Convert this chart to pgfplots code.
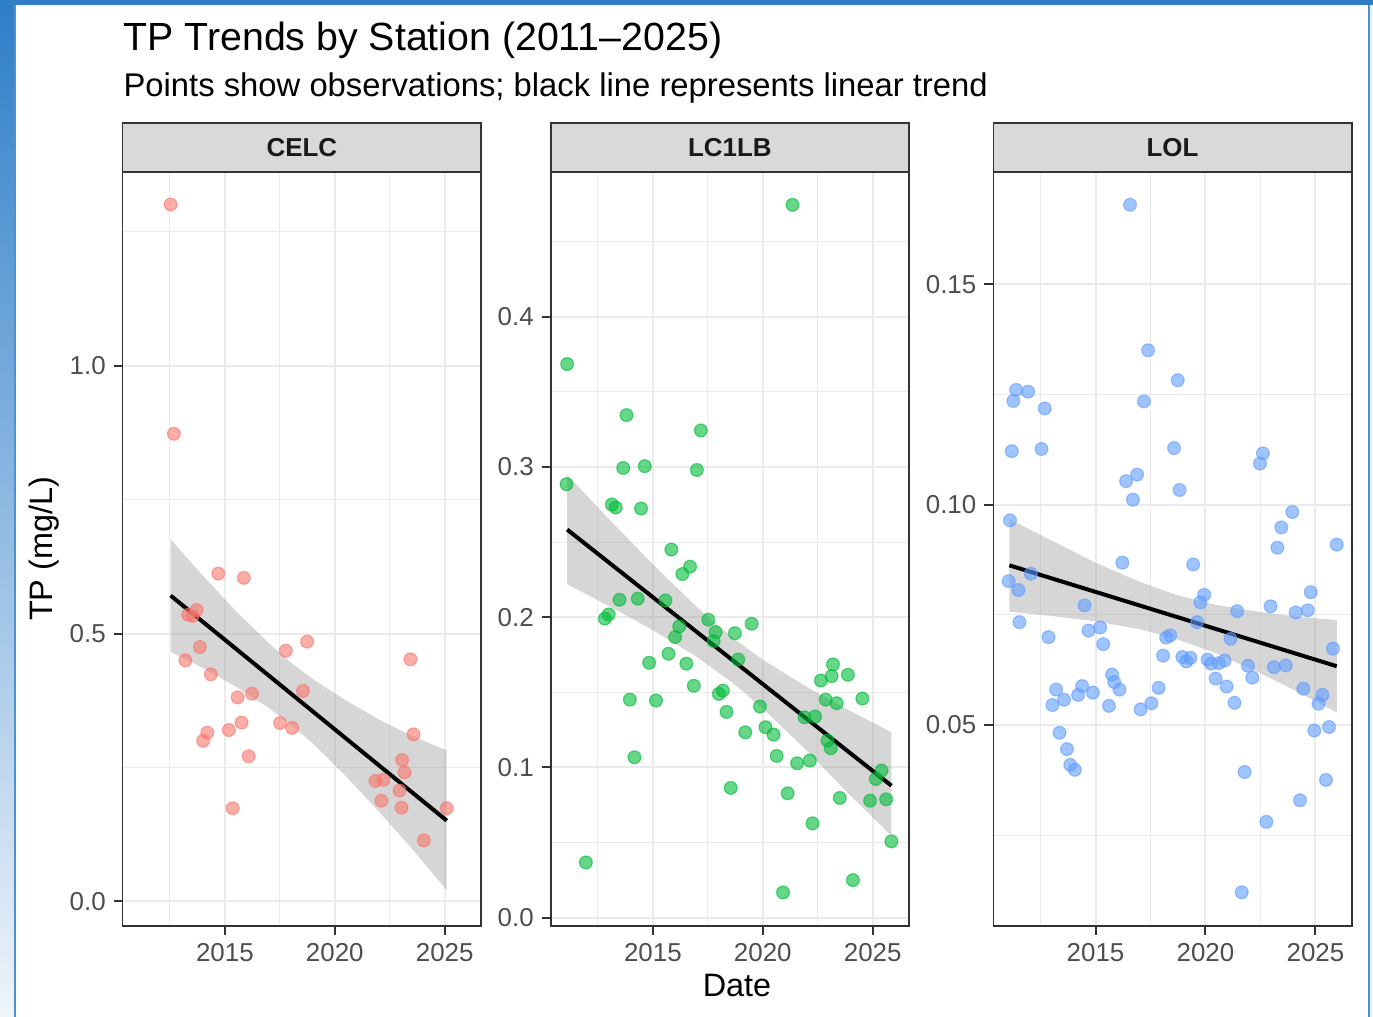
\documentclass[border=0pt]{standalone}
\usepackage{pgfplots}
\pgfplotsset{compat=1.18}
\usepackage{fontspec}
\setmainfont{Liberation Sans}
\definecolor{celc}{HTML}{F8766D}
\definecolor{lcgreen}{HTML}{00BA38}
\definecolor{lolblue}{HTML}{619CFF}
\definecolor{gridc}{HTML}{EBEBEB}
\definecolor{gtwenty}{HTML}{333333}
\definecolor{gthirty}{HTML}{4D4D4D}
\definecolor{stripc}{HTML}{D9D9D9}
\definecolor{bandc}{HTML}{999999}
\definecolor{frameblue}{HTML}{2E7EC8}

\pgfplotsset{
  facet/.style={
    anchor=south west, scale only axis, height=377pt,
    xmin=2010.35, xmax=2026.65,
    xtick={2015,2020,2025}, minor xtick={2012.5,2017.5,2022.5},
    grid=both,
    major grid style={color=gridc, line width=1pt},
    minor grid style={color=gridc, line width=0.5pt},
    axis line style={gtwenty, line width=0.8pt},
    tick align=outside, tick pos=left,
    major tick length=4.5pt, minor tick length=0pt,
    major tick style={gtwenty, line width=1pt},
    /pgf/number format/1000 sep={},
    /pgf/number format/assume math mode=true,
    tick label style={font=\fontsize{12.96}{14}\selectfont, text=gthirty},
    xticklabel style={inner sep=0pt, yshift=-4pt},
    yticklabel style={inner sep=0pt, xshift=-3.8pt},
    clip=false,
    axis on top=false,
  },
  pts/.style={only marks, mark=*, mark size=3.2pt, color=#1,
    mark options={line width=0.6pt, fill opacity=0.6, draw opacity=0.6}},
  band/.style={fill=bandc, fill opacity=0.4, draw=none, forget plot},
  trend/.style={black, line width=2pt, no marks},
}
\newcommand{\strip}[1]{%
  \draw[fill=stripc, draw=gtwenty, line width=0.8pt] (rel axis cs:0,1) rectangle ([yshift=24.5pt]rel axis cs:1,1);
  \node[font=\bfseries\fontsize{12.96}{14}\selectfont, text=black!90, anchor=center] at ([yshift=12.25pt]rel axis cs:0.5,1) {#1};
}

\begin{document}
\begin{tikzpicture}
\useasboundingbox (0,0) rectangle (686.5pt,508.5pt);
% screenshot frame
\shade[top color=frameblue, bottom color=frameblue!8] (0,0) rectangle (7.5pt,508.5pt);
\draw[color=frameblue!85, line width=0.8pt] (7.5pt,0) -- (7.5pt,506pt);
\fill[frameblue] (0,506pt) rectangle (686.5pt,508.5pt);
\draw[color=frameblue!85, line width=1pt] (684.7pt,0) -- (684.7pt,506pt);
\fill[frameblue!10] (685.2pt,0) rectangle (686.5pt,506pt);

\node[anchor=base west, inner sep=0pt, font=\fontsize{19.65}{22}\selectfont] at (61.6pt,483.3pt) {TP Trends by Station (2011–2025)};
\node[anchor=base west, inner sep=0pt, font=\fontsize{16.4}{19}\selectfont] at (61.6pt,460pt) {Points show observations; black line represents linear trend};
\node[anchor=base, rotate=90, inner sep=0pt, font=\fontsize{16.2}{19}\selectfont] at (26.5pt,234pt) {TP (mg/L)};
\node[anchor=base, inner sep=0pt, font=\fontsize{16.2}{19}\selectfont] at (368.5pt,10pt) {Date};

% ---------------- CELC
\begin{axis}[facet, at={(61.35pt,45.6pt)}, width=179.15pt,
  ymin=-0.0454, ymax=1.362, ytick={0,0.5,1}, minor ytick={0.25,0.75,1.25},
  yticklabel style={/pgf/number format/.cd, fixed, fixed zerofill, precision=1}]
\addplot[pts=celc] table {
x y
2012.53 1.301
2012.68 0.873
2013.71 0.544
2013.33 0.535
2013.53 0.533
2013.86 0.475
2013.20 0.450
2014.36 0.424
2014.70 0.612
2015.86 0.604
2016.23 0.388
2015.58 0.381
2015.76 0.334
2015.18 0.320
2014.20 0.315
2014.01 0.300
2016.08 0.271
2015.35 0.174
2017.77 0.468
2018.74 0.485
2018.55 0.393
2017.51 0.333
2018.06 0.324
2023.44 0.452
2023.58 0.312
2023.06 0.264
2023.17 0.241
2021.85 0.225
2022.21 0.227
2022.94 0.207
2022.12 0.188
2023.03 0.175
2025.09 0.174
2024.05 0.114
};
\addplot[band] coordinates {
(2012.53,0.676) (2014,0.608) (2015.5,0.542) (2017,0.482) (2018,0.446) (2019,0.415) (2020.5,0.375) (2022,0.340) (2023.5,0.309) (2025.09,0.282)
(2025.09,0.021) (2023.5,0.099) (2022,0.168) (2020.5,0.234) (2019,0.295) (2018,0.330) (2017,0.361) (2015.5,0.401) (2014,0.436) (2012.53,0.466)
} -- cycle;
\addplot[trend] coordinates {(2012.53,0.571) (2025.09,0.151)};
\strip{CELC}
\end{axis}

% ---------------- LC1LB
\begin{axis}[facet, at={(275.35pt,45.6pt)}, width=179.15pt,
  ymin=-0.0055, ymax=0.4965, ytick={0,0.1,0.2,0.3,0.4}, minor ytick={0.05,0.15,0.25,0.35,0.45},
  yticklabel style={/pgf/number format/.cd, fixed, fixed zerofill, precision=1}]
\addplot[pts=lcgreen] table {
x y
2021.35 0.4745
2011.10 0.3685
2013.80 0.3345
2017.18 0.3243
2013.65 0.2993
2014.63 0.3005
2017.00 0.2980
2011.07 0.2885
2013.13 0.2750
2013.31 0.2730
2014.46 0.2723
2015.84 0.2450
2016.69 0.2336
2016.34 0.2287
2013.48 0.2116
2014.31 0.2123
2015.57 0.2111
2012.81 0.1990
2012.99 0.2018
2017.52 0.1983
2016.20 0.1938
2016.01 0.1867
2017.85 0.1900
2017.76 0.1840
2018.73 0.1893
2019.49 0.1956
2018.88 0.1718
2014.83 0.1696
2015.71 0.1756
2016.52 0.1690
2016.86 0.1543
2013.95 0.1451
2015.14 0.1445
2018.00 0.1489
2018.18 0.1511
2018.35 0.1369
2019.87 0.1405
2019.20 0.1233
2020.12 0.1267
2020.49 0.1218
2020.63 0.1076
2014.16 0.1067
2021.56 0.1027
2022.14 0.1045
2021.90 0.1333
2022.38 0.1338
2022.64 0.1578
2023.13 0.1607
2023.19 0.1685
2023.87 0.1616
2022.86 0.1451
2023.36 0.1427
2024.53 0.1458
2022.94 0.1178
2023.09 0.1127
2025.40 0.0978
2025.14 0.0922
2024.88 0.0778
2025.61 0.0787
2023.50 0.0796
2018.54 0.0863
2021.13 0.0827
2022.26 0.0627
2025.85 0.0507
2011.95 0.0367
2024.10 0.0249
2020.92 0.0167
};
\addplot[band] coordinates {
(2011.1,0.2947) (2013,0.2653) (2015,0.2351) (2017,0.2067) (2018.6,0.1866) (2020,0.1716) (2022,0.1535) (2024,0.1374) (2025.85,0.1233)
(2025.85,0.0545) (2024,0.0810) (2022,0.1111) (2020,0.1392) (2018.6,0.1566) (2017,0.1735) (2015,0.1913) (2013,0.2074) (2011.1,0.2219)
} -- cycle;
\addplot[trend] coordinates {(2011.1,0.2583) (2025.85,0.0878)};
\strip{LC1LB}
\end{axis}

% ---------------- LOL
\begin{axis}[facet, at={(496.65pt,45.6pt)}, width=179.2pt,
  ymin=0.0044, ymax=0.1755, ytick={0.05,0.10,0.15}, minor ytick={0.025,0.075,0.125},
  yticklabel style={/pgf/number format/.cd, fixed, fixed zerofill, precision=2}]
\addplot[pts=lolblue] table {
x y
2016.57 0.1680
2017.39 0.1350
2018.74 0.1282
2011.39 0.1260
2011.93 0.1256
2011.26 0.1235
2017.20 0.1234
2012.69 0.1218
2011.19 0.1121
2012.54 0.1126
2018.57 0.1128
2022.61 0.1116
2022.48 0.1093
2016.89 0.1068
2016.39 0.1053
2018.82 0.1033
2016.70 0.1011
2023.95 0.0983
2011.11 0.0964
2023.45 0.0948
2025.97 0.0909
2023.27 0.0902
2016.22 0.0868
2019.44 0.0864
2012.06 0.0843
2011.05 0.0826
2011.49 0.0806
2019.94 0.0795
2019.77 0.0778
2014.50 0.0771
2024.79 0.0801
2022.96 0.0769
2021.44 0.0758
2024.10 0.0755
2024.65 0.0760
2011.54 0.0733
2012.86 0.0699
2014.68 0.0714
2015.21 0.0721
2015.35 0.0683
2019.62 0.0733
2021.14 0.0695
2025.80 0.0673
2018.21 0.0698
2018.40 0.0703
2018.07 0.0657
2018.95 0.0654
2019.32 0.0652
2019.13 0.0644
2020.10 0.0648
2020.26 0.0639
2020.61 0.0640
2020.87 0.0646
2021.93 0.0634
2023.11 0.0631
2023.65 0.0635
2022.13 0.0607
2020.46 0.0605
2020.96 0.0587
2021.32 0.0550
2024.45 0.0582
2025.32 0.0568
2025.14 0.0548
2024.95 0.0487
2025.62 0.0495
2017.87 0.0584
2017.54 0.0549
2017.05 0.0535
2015.75 0.0614
2015.85 0.0597
2016.09 0.0580
2015.61 0.0543
2014.39 0.0588
2014.21 0.0568
2014.88 0.0573
2013.21 0.0580
2013.57 0.0557
2013.04 0.0545
2013.36 0.0482
2013.70 0.0445
2013.85 0.0409
2014.06 0.0398
2021.78 0.0393
2025.48 0.0375
2024.30 0.0329
2022.77 0.0280
2021.65 0.0120
};
\addplot[band] coordinates {
(2011.08,0.0967) (2013,0.0918) (2015,0.0868) (2017,0.0825) (2018.6,0.0796) (2020.5,0.0772) (2022.5,0.0756) (2024.2,0.0745) (2025.97,0.0738)
(2025.97,0.0528) (2024.2,0.0575) (2022.5,0.0617) (2020.5,0.0662) (2018.6,0.0696) (2017,0.0717) (2015,0.0735) (2013,0.0747) (2011.08,0.0757)
} -- cycle;
\addplot[trend] coordinates {(2011.08,0.0862) (2025.97,0.0633)};
\strip{LOL}
\end{axis}
\end{tikzpicture}
\end{document}
